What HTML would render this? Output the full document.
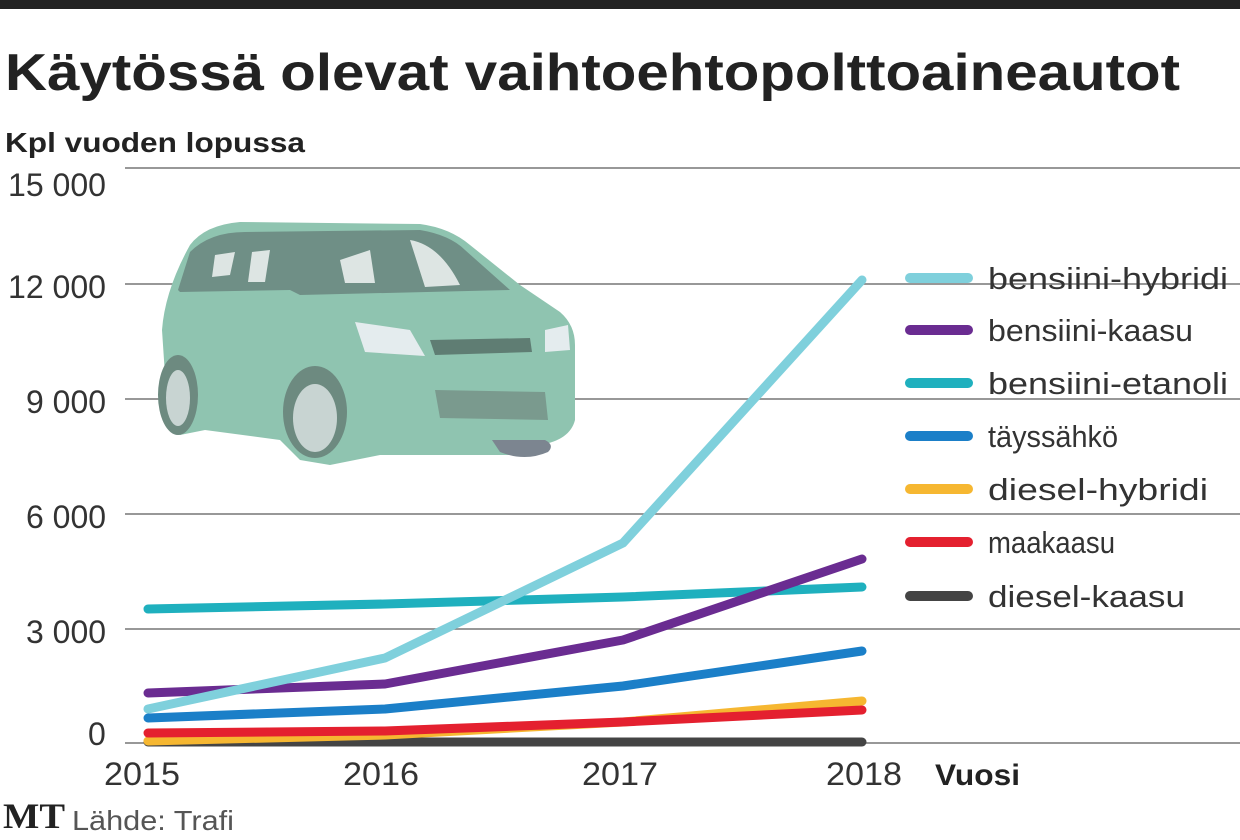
<!DOCTYPE html>
<html><head><meta charset="utf-8"><style>
html,body{margin:0;padding:0;background:#fff;}
svg{display:block;}
text{font-family:"Liberation Sans",sans-serif;}
</style></head><body>
<svg width="1240" height="840" viewBox="0 0 1240 840" xmlns="http://www.w3.org/2000/svg">
<rect x="0" y="0" width="1240" height="9" fill="#222"/>
<text x="5" y="90" font-size="52" font-weight="bold" fill="#222" textLength="1175" lengthAdjust="spacingAndGlyphs">Käytössä olevat vaihtoehtopolttoaineautot</text>
<text x="5" y="152" font-size="28" font-weight="bold" fill="#222" textLength="300" lengthAdjust="spacingAndGlyphs">Kpl vuoden lopussa</text>
<g stroke="#777" stroke-width="1.5">
<line x1="125" y1="168" x2="1240" y2="168"/>
<line x1="125" y1="284" x2="1240" y2="284"/>
<line x1="125" y1="399" x2="1240" y2="399"/>
<line x1="125" y1="514" x2="1240" y2="514"/>
<line x1="125" y1="629" x2="1240" y2="629"/>
<line x1="125" y1="743" x2="1240" y2="743"/>
</g>
<g font-size="32" fill="#333">
<text x="8" y="196" textLength="98" lengthAdjust="spacingAndGlyphs">15 000</text>
<text x="8" y="298" textLength="98" lengthAdjust="spacingAndGlyphs">12 000</text>
<text x="26" y="413" textLength="80" lengthAdjust="spacingAndGlyphs">9 000</text>
<text x="26" y="528" textLength="80" lengthAdjust="spacingAndGlyphs">6 000</text>
<text x="26" y="643" textLength="80" lengthAdjust="spacingAndGlyphs">3 000</text>
<text x="88" y="745">0</text>
<text x="104" y="785" textLength="76" lengthAdjust="spacingAndGlyphs">2015</text>
<text x="343" y="785" textLength="76" lengthAdjust="spacingAndGlyphs">2016</text>
<text x="582" y="785" textLength="76" lengthAdjust="spacingAndGlyphs">2017</text>
<text x="826" y="785" textLength="76" lengthAdjust="spacingAndGlyphs">2018</text>
</g>
<text x="935" y="785" font-size="30" font-weight="bold" fill="#222" textLength="85" lengthAdjust="spacingAndGlyphs">Vuosi</text>
<g>
<path d="M190 245 Q205 225 240 222 L420 224 Q450 228 470 245 L520 285 L560 312 Q575 325 575 345 L575 420 Q570 440 540 445 L520 455 L380 455 L330 465 L300 460 L280 440 L205 430 L180 435 L168 420 L162 330 Q165 290 190 245 Z" fill="#8fc4b0"/>
<path d="M178 290 L190 252 Q210 232 245 232 L420 230 Q450 235 465 250 L510 290 L300 295 L290 290 L180 292 Z" fill="#6f8f86"/>
<path d="M215 255 L235 252 L230 275 L212 277 Z M252 252 L270 250 L265 282 L248 282 Z M340 260 L370 250 L375 283 L345 283 Z M410 240 Q440 245 460 285 L425 287 Z" fill="#dde5e3"/>
<path d="M355 322 L410 330 L425 356 L365 352 Z" fill="#e4ecee"/>
<path d="M430 340 L530 338 L532 352 L435 355 Z" fill="#5f7d73"/>
<path d="M545 330 L568 325 L570 350 L545 352 Z" fill="#e4ecee"/>
<path d="M435 390 L545 392 L548 420 L440 418 Z" fill="#7a9a8e"/>
<ellipse cx="315" cy="412" rx="32" ry="46" fill="#6d8a80"/>
<ellipse cx="315" cy="418" rx="22" ry="34" fill="#c8d4d2"/>
<ellipse cx="178" cy="395" rx="20" ry="40" fill="#6d8a80"/>
<ellipse cx="178" cy="398" rx="12" ry="28" fill="#c8d4d2"/>
<path d="M492 440 L545 440 Q555 445 548 452 Q525 462 500 452 Z" fill="#7c8590"/>
</g>
<g fill="none" stroke-width="9" stroke-linejoin="round" stroke-linecap="round">
<polyline stroke="#444" points="148,742 385,742 623,742 862,742"/>
<polyline stroke="#f6b731" points="148,741 385,735 623,722 862,701"/>
<polyline stroke="#e4202f" points="148,733 385,731 623,722 862,710"/>
<polyline stroke="#1b7fc8" points="148,718 385,709 623,686 862,651"/>
<polyline stroke="#1fb0be" points="148,609 385,604 623,597 862,587"/>
<polyline stroke="#6a2c91" points="148,693 385,684 623,640 862,559"/>
<polyline stroke="#7fd0dc" points="148,709 385,658 623,543 862,280"/>
</g>
<g stroke-width="10" stroke-linecap="round">
<line x1="910" y1="278" x2="968" y2="278" stroke="#7fd0dc"/>
<line x1="910" y1="330" x2="968" y2="330" stroke="#6a2c91"/>
<line x1="910" y1="383" x2="968" y2="383" stroke="#1fb0be"/>
<line x1="910" y1="436" x2="968" y2="436" stroke="#1b7fc8"/>
<line x1="910" y1="489" x2="968" y2="489" stroke="#f6b731"/>
<line x1="910" y1="542" x2="968" y2="542" stroke="#e4202f"/>
<line x1="910" y1="596" x2="968" y2="596" stroke="#444"/>
</g>
<g font-size="31" fill="#333">
<text x="988" y="289" textLength="240" lengthAdjust="spacingAndGlyphs">bensiini-hybridi</text>
<text x="988" y="341" textLength="205" lengthAdjust="spacingAndGlyphs">bensiini-kaasu</text>
<text x="988" y="394" textLength="240" lengthAdjust="spacingAndGlyphs">bensiini-etanoli</text>
<text x="988" y="447" textLength="130" lengthAdjust="spacingAndGlyphs">täyssähkö</text>
<text x="988" y="500" textLength="220" lengthAdjust="spacingAndGlyphs">diesel-hybridi</text>
<text x="988" y="553" textLength="127" lengthAdjust="spacingAndGlyphs">maakaasu</text>
<text x="988" y="607" textLength="197" lengthAdjust="spacingAndGlyphs">diesel-kaasu</text>
</g>
<text x="3" y="828" font-size="36" font-weight="bold" fill="#222" textLength="62" lengthAdjust="spacingAndGlyphs" style="font-family:'Liberation Serif',serif">MT</text>
<text x="72" y="830" font-size="28" fill="#555" textLength="162" lengthAdjust="spacingAndGlyphs">Lähde: Trafi</text>
</svg>
</body></html>
